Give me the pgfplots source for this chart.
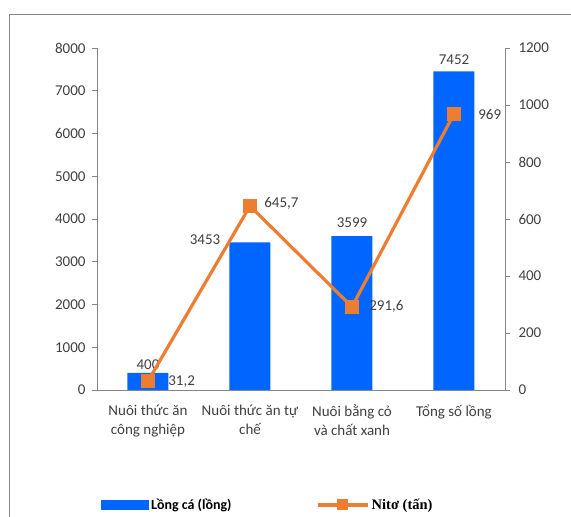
\documentclass[border=0pt]{standalone}
\usepackage{fontspec}
\setmainfont{Carlito}
\newfontfamily\timesfont{Liberation Serif}
\usepackage{pgfplots}
\pgfplotsset{compat=1.18}
\usepackage{pgfplotstable}

\definecolor{barblue}{RGB}{0,102,255}
\definecolor{lineorange}{RGB}{237,125,49}
\definecolor{axisgray}{RGB}{134,134,134}
\definecolor{labelgray}{RGB}{64,64,64}

\pgfkeys{/pgf/number format/.cd, use comma, 1000 sep={}, assume math mode=true}

% number of cages (left axis) with label offsets
\pgfplotstableread{
x y dx dy
0 400 0 0
1 3453 -45 -6
2 3599 0 5
3 7452 0 3
}\cagetable

% nitrogen load in tonnes (right axis) with label offsets
\pgfplotstableread{
x y dx dy
0 31.2 17 0
1 645.7 11 3
2 291.6 14 0
3 969 21 -1
}\nitotable

\pgfplotsset{
  common/.style={
    scale only axis,
    width=408pt, height=342pt,
    at={(97pt,127pt)}, anchor=south west,
    xmin=-0.5, xmax=3.5,
    axis line style={axisgray, line width=0.8pt},
    tick style={axisgray, line width=0.8pt},
    major tick length=5pt,
    tick align=outside,
    scaled y ticks=false,
    tick label style={font=\fontsize{15}{19}\selectfont, text=labelgray},
  },
  barlegend/.style={
    legend image code/.code={\fill[barblue] (0pt,-4.5pt) rectangle (47pt,4.5pt);},
  },
  linelegend/.style={
    legend image code/.code={\draw[##1, mark repeat=2, mark phase=2, mark size=5pt] plot coordinates {(0pt,0pt) (25pt,0pt) (50pt,0pt)};},
  },
}

\begin{document}
\begin{tikzpicture}
\path[use as bounding box] (0pt,0pt) rectangle (571pt,517pt);
\draw[axisgray, line width=0.8pt] (9pt,0pt) -- (9pt,503pt) -- (571pt,503pt);

\begin{axis}[
  common,
  axis x line*=bottom, axis y line*=left,
  ymin=0, ymax=8000,
  ytick={0,1000,...,8000},
  xtick={0,1,2,3},
  xticklabels={Nuôi thức ăn\\công nghiệp, Nuôi thức ăn tự\\chế, Nuôi bằng cỏ\\và chất xanh, Tổng số lồng},
  xticklabel style={align=center, yshift=-6pt},
  x tick style={draw=none},
  extra x ticks={-0.5,0.5,1.5,2.5,3.5},
  extra x tick labels={},
  extra x tick style={tick style={axisgray, line width=0.8pt}},
  yticklabel style={xshift=-3pt},
]
\addplot[ybar, bar width=41pt, fill=barblue, draw=none,
  nodes near coords,
  point meta=y,
  visualization depends on={\thisrow{dx} \as \dx},
  visualization depends on={\thisrow{dy} \as \dy},
  every node near coord/.append style={font=\fontsize{15}{19}\selectfont, text=labelgray, xshift=\dx pt, yshift=\dy pt},
] table[x=x, y=y] {\cagetable};
\end{axis}

\begin{axis}[
  common,
  axis x line=none, axis y line*=right,
  ymin=0, ymax=1200,
  ytick={0,200,...,1200},
  yticklabel style={xshift=5pt},
  legend columns=2,
  legend style={at={(0.0098,-0.336)}, anchor=west, draw=none, fill=none,
    inner sep=0pt, /tikz/column 2/.style={column sep=82pt},
    nodes={inner sep=2.5pt}},
]
\addlegendimage{barlegend}
\addlegendentry{\fontsize{14}{17}\selectfont\bfseries Lồng cá (lồng)}
\addplot[lineorange, line width=3.2pt, mark=square*, mark size=6.5pt,
  mark options={line width=0pt, fill=lineorange},
  nodes near coords,
  point meta=y,
  visualization depends on={\thisrow{dx} \as \dx},
  visualization depends on={\thisrow{dy} \as \dy},
  every node near coord/.append style={anchor=west, font=\fontsize{15}{19}\selectfont, text=labelgray, xshift=\dx pt, yshift=\dy pt},
  linelegend,
] table[x=x, y=y] {\nitotable};
\addlegendentry{\timesfont\fontsize{14.5}{17}\selectfont\bfseries Nitơ (tấn)}
\end{axis}
\end{tikzpicture}
\end{document}
